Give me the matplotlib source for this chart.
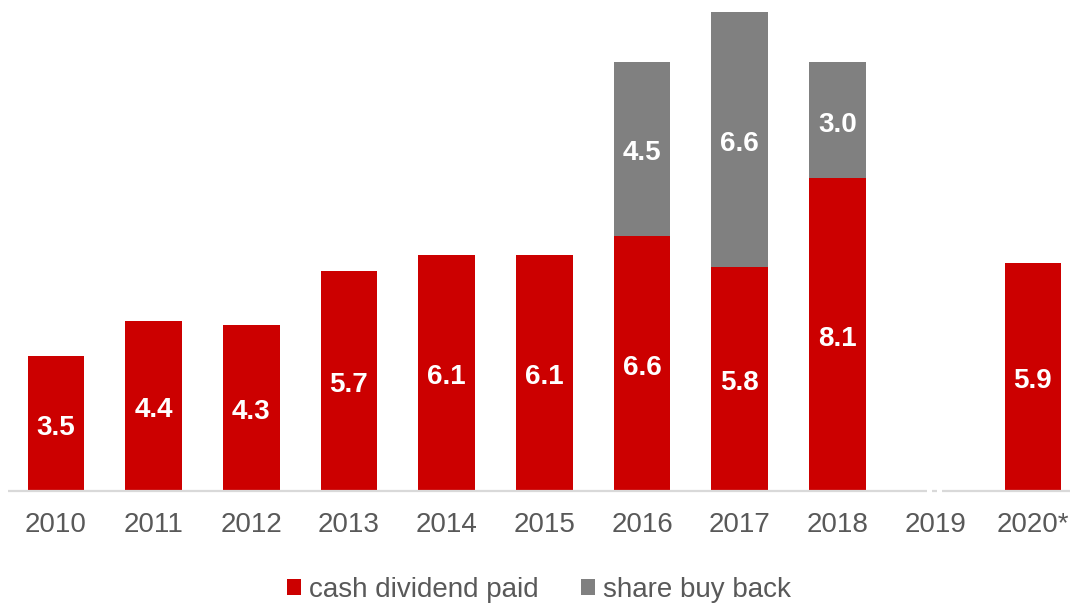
import matplotlib.pyplot as plt
import numpy as np

years = ["2010", "2011", "2012", "2013", "2014", "2015", "2016", "2017", "2018", "2019", "2020*"]
cash_dividend = [3.5, 4.4, 4.3, 5.7, 6.1, 6.1, 6.6, 5.8, 8.1, 0, 5.9]
buy_back = [0, 0, 0, 0, 0, 0, 4.5, 6.6, 3.0, 0, 0]

RED = "#CC0000"
GREY = "#808080"
TXT = "#595959"

plt.rcParams['font.family'] = ['Liberation Sans', 'DejaVu Sans']

fig = plt.figure(figsize=(10.73, 6.03), dpi=100)
ax = fig.add_axes([8 / 1073, (603 - 491) / 603, 1062 / 1073, 483 / 603])

x = np.arange(len(years))
w = 0.58
ax.bar(x, cash_dividend, w, color=RED, label="cash dividend paid", zorder=2)
ax.bar(x, buy_back, w, bottom=cash_dividend, color=GREY, label="share buy back", zorder=2)

# value labels, centred in each segment (nudged down a few px like the original)
for i in range(len(years)):
    if cash_dividend[i] > 0:
        ax.annotate(f"{cash_dividend[i]:.1f}", (x[i], cash_dividend[i] / 2), xytext=(0, -3),
                    textcoords="offset points", ha="center", va="center",
                    color="white", fontsize=20, fontweight="bold")
    if buy_back[i] > 0:
        ax.annotate(f"{buy_back[i]:.1f}", (x[i], cash_dividend[i] + buy_back[i] / 2), xytext=(0, -3),
                    textcoords="offset points", ha="center", va="center",
                    color="white", fontsize=20, fontweight="bold")

ax.set_xlim(-0.49, 10.38)
ax.set_ylim(0, 12.51)

# baseline with the little break at 2019
for a, b in [(-0.49, 8.915), (8.97, 9.02), (9.07, 10.38)]:
    ax.plot([a, b], [0, 0], color="#D9D9D9", lw=1.6, solid_capstyle="butt", zorder=3, clip_on=False)

for s in ax.spines.values():
    s.set_visible(False)
ax.set_yticks([])
ax.set_xticks(x)
ax.set_xticklabels(years, fontsize=20, color=TXT)
ax.tick_params(axis="x", length=0, pad=15)

ax.legend(loc="center", bbox_to_anchor=(0.5, -0.205), ncol=2, frameon=False,
          fontsize=20, labelcolor=TXT, handlelength=0.5, handleheight=0.5,
          handletextpad=0.3, columnspacing=1.5, borderpad=0.1)

fig.savefig("out.png", dpi=100)
